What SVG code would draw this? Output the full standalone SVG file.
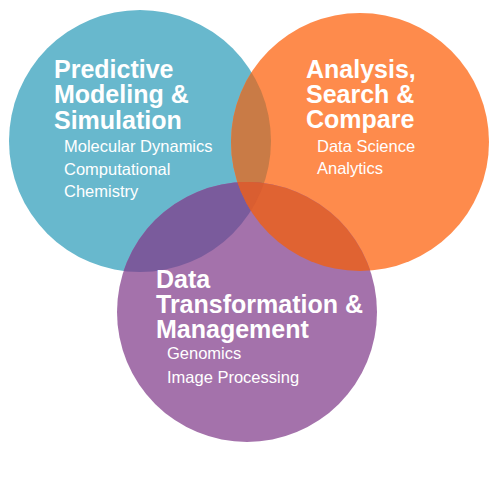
<svg xmlns="http://www.w3.org/2000/svg" width="500" height="500" viewBox="0 0 500 500">
<defs>
<clipPath id="cB"><circle cx="140" cy="141" r="131"/></clipPath>
<clipPath id="cO"><circle cx="360" cy="142" r="129"/></clipPath>
<clipPath id="cP"><circle cx="247" cy="312" r="130"/></clipPath>
</defs>
<style>
.h{font-family:"Liberation Sans",Arial,sans-serif;font-weight:bold;font-size:25px;fill:#fff}
.s{font-family:"Liberation Sans",Arial,sans-serif;font-size:16.5px;fill:#fff}
</style>
<rect width="500" height="500" fill="#fff"/>
<g id="blue">
<circle cx="140" cy="141" r="131" fill="#68B8CD"/>
</g>
<g id="orange">
<circle cx="360" cy="142" r="129" fill="#FE8B4C"/>
</g>
<g id="purple">
<circle cx="247" cy="312" r="130" fill="#A472AB"/>
</g>
<g id="overlaps">
<g clip-path="url(#cB)"><circle cx="360" cy="142" r="129" fill="#C97B46"/></g>
<g clip-path="url(#cB)"><circle cx="247" cy="312" r="130" fill="#7A5B9C"/></g>
<g clip-path="url(#cO)"><circle cx="247" cy="312" r="130" fill="#E06332"/></g>
<g clip-path="url(#cO)"><g clip-path="url(#cB)"><circle cx="247" cy="312" r="130" fill="#D95E31"/></g></g>
</g>
<g id="label-blue">
<text class="h" x="54" y="78">Predictive</text>
<text class="h" x="54" y="103">Modeling &amp;</text>
<text class="h" x="54" y="129">Simulation</text>
<text class="s" x="64" y="152">Molecular Dynamics</text>
<text class="s" x="64" y="175">Computational</text>
<text class="s" x="64" y="197">Chemistry</text>
</g>
<g id="label-orange">
<text class="h" x="306" y="78">Analysis,</text>
<text class="h" x="306" y="103">Search &amp;</text>
<text class="h" x="306" y="128">Compare</text>
<text class="s" x="317" y="152">Data Science</text>
<text class="s" x="317" y="174">Analytics</text>
</g>
<g id="label-purple">
<text class="h" x="156" y="288">Data</text>
<text class="h" x="156" y="313">Transformation &amp;</text>
<text class="h" x="156" y="338">Management</text>
<text class="s" x="167" y="359">Genomics</text>
<text class="s" x="167" y="383">Image Processing</text>
</g>
</svg>
